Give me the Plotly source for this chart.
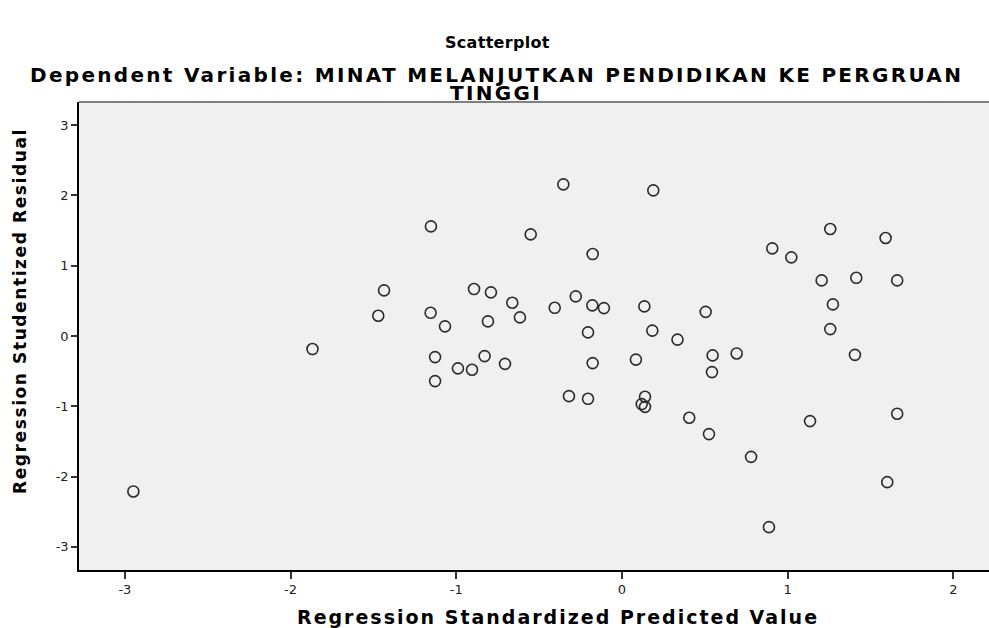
import plotly.graph_objects as go

predicted = [-0.354, 0.189, -1.153, -0.551, -0.177, 1.257, 1.591, 0.907, 1.022, 1.205,
             1.414, 1.661, 1.273, 1.257, -1.436, -0.893, -0.791, -0.662, -0.279, -1.471,
             -1.155, -1.068, -0.809, -0.616, -0.406, -0.179, -0.109, 0.135, 0.505, -0.205,
             0.183, 0.335, -1.868, -2.949, -1.128, -0.990, -0.905, -0.829, -0.706, -0.177,
             0.084, -1.128, -0.320, -0.205, 0.139, 0.119, 0.139, 0.547, 0.692, 1.406,
             0.543, 0.406, 1.135, 1.661, 0.525, 0.779, 1.601, 0.887]
residual = [2.158, 2.073, 1.560, 1.446, 1.166, 1.522, 1.394, 1.247, 1.119, 0.791,
            0.828, 0.791, 0.450, 0.098, 0.649, 0.668, 0.621, 0.473, 0.564, 0.288,
            0.330, 0.137, 0.208, 0.265, 0.401, 0.436, 0.397, 0.421, 0.344, 0.051,
            0.077, -0.051, -0.186, -2.212, -0.300, -0.461, -0.481, -0.286, -0.396, -0.386,
            -0.336, -0.642, -0.856, -0.894, -0.865, -0.969, -1.008, -0.276, -0.248, -0.268,
            -0.514, -1.164, -1.211, -1.107, -1.396, -1.720, -2.080, -2.720]

x_ticks = [-3, -2, -1, 0, 1, 2]
y_ticks = [-3, -2, -1, 0, 1, 2, 3]

title_main = "Scatterplot"
title_sub1 = "Dependent Variable: MINAT MELANJUTKAN PENDIDIKAN KE PERGRUAN"
title_sub2 = "TINGGI"
x_title = "Regression Standardized Predicted Value"
y_title = "Regression Studentized Residual"

BOLD = "DejaVu Sans, Verdana, sans-serif"
L, T, W, H = 79, 102, 910, 468  # plot area in pixels


def spaced(txt, px):
    return '<span style="letter-spacing:%.1fpx">%s</span>' % (px, txt)


def px_x(p):
    return (p - L) / W


def px_y(p):
    return 1 - (p - T) / H


fig = go.Figure()
fig.add_trace(go.Scatter(
    x=predicted, y=residual, mode="markers",
    marker=dict(symbol="circle-open", size=11, color="#2a2a2a", line=dict(width=1.6)),
    hoverinfo="x+y", showlegend=False,
))

fig.update_layout(
    width=989, height=628,
    margin=dict(l=L, r=989 - L - W, t=T, b=628 - T - H),
    paper_bgcolor="white",
    plot_bgcolor="#f0f0f0",
    font=dict(family="DejaVu Sans, sans-serif", color="black"),
    xaxis=dict(
        range=[-3.277, 2.215], tickvals=x_ticks, ticktext=[str(v) for v in x_ticks],
        showgrid=False, zeroline=False, automargin=False,
        showline=True, linecolor="black", linewidth=1.5,
        ticks="outside", ticklen=7, tickwidth=2, tickcolor="#333",
        tickfont=dict(size=13, color="#222"),
    ),
    yaxis=dict(
        range=[-3.33, 3.33], tickvals=y_ticks, ticktext=[str(v) for v in y_ticks],
        showgrid=False, zeroline=False, automargin=False,
        showline=True, linecolor="black", linewidth=1.5,
        ticks="outside", ticklen=6, tickwidth=1.5, tickcolor="#333",
        tickfont=dict(size=13, color="#222"),
    ),
    shapes=[dict(type="line", xref="paper", yref="paper", x0=0, x1=1, y0=1, y1=1,
                 line=dict(color="#808080", width=2))],
    annotations=[
        dict(text="<b>" + spaced(title_main, 0.3) + "</b>", xref="paper", yref="paper",
             x=px_x(497), y=px_y(42), showarrow=False,
             font=dict(size=16, family=BOLD), xanchor="center", yanchor="middle"),
        dict(text="<b>" + spaced(title_sub1, 2.3) + "</b>", xref="paper", yref="paper",
             x=px_x(496), y=px_y(75), showarrow=False,
             font=dict(size=20, family=BOLD), xanchor="center", yanchor="middle"),
        dict(text="<b>" + spaced(title_sub2, 2.3) + "</b>", xref="paper", yref="paper",
             x=px_x(496), y=px_y(93), showarrow=False,
             font=dict(size=20, family=BOLD), xanchor="center", yanchor="middle"),
        dict(text="<b>" + spaced(x_title, 2) + "</b>", xref="paper", yref="paper",
             x=px_x(558), y=px_y(617), showarrow=False,
             font=dict(size=19, family=BOLD), xanchor="center", yanchor="middle"),
        dict(text="<b>" + spaced(y_title, 1.6) + "</b>", xref="paper", yref="paper",
             x=px_x(20), y=px_y(311), showarrow=False, textangle=-90,
             font=dict(size=17, family=BOLD), xanchor="center", yanchor="middle"),
    ],
)

fig.write_html("out.html", config={"displayModeBar": False},
               post_script="document.body.style.margin='0';document.body.style.padding='0';")
